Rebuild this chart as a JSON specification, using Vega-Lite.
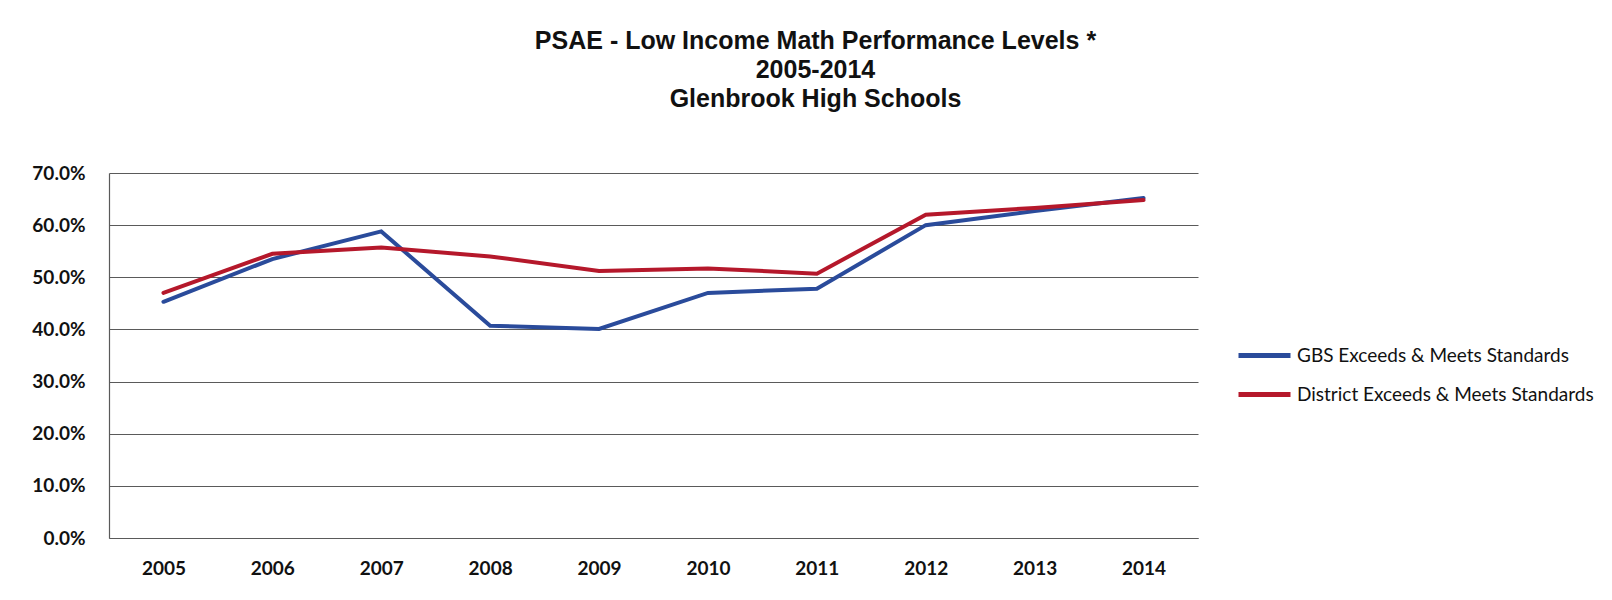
{
  "$schema": "https://vega.github.io/schema/vega-lite/v6.json",
  "autosize": {"type": "none"},
  "padding": {"left": 109, "top": 173, "right": 414, "bottom": 62},
  "width": 1089,
  "height": 365,
  "background": "white",
  "title": {
    "text": ["PSAE - Low Income Math Performance Levels *", "2005-2014", "Glenbrook High Schools"],
    "font": "Liberation Sans",
    "fontSize": 25,
    "fontWeight": "bold",
    "color": "#111111",
    "lineHeight": 29,
    "anchor": "middle",
    "dx": 162,
    "offset": 52
  },
  "data": {
    "values": [
      {"year": "2005", "series": "GBS Exceeds & Meets Standards", "value": 0.453},
      {"year": "2006", "series": "GBS Exceeds & Meets Standards", "value": 0.535},
      {"year": "2007", "series": "GBS Exceeds & Meets Standards", "value": 0.588},
      {"year": "2008", "series": "GBS Exceeds & Meets Standards", "value": 0.407},
      {"year": "2009", "series": "GBS Exceeds & Meets Standards", "value": 0.401},
      {"year": "2010", "series": "GBS Exceeds & Meets Standards", "value": 0.470},
      {"year": "2011", "series": "GBS Exceeds & Meets Standards", "value": 0.478},
      {"year": "2012", "series": "GBS Exceeds & Meets Standards", "value": 0.600},
      {"year": "2013", "series": "GBS Exceeds & Meets Standards", "value": 0.627},
      {"year": "2014", "series": "GBS Exceeds & Meets Standards", "value": 0.652},
      {"year": "2005", "series": "District Exceeds & Meets Standards", "value": 0.470},
      {"year": "2006", "series": "District Exceeds & Meets Standards", "value": 0.545},
      {"year": "2007", "series": "District Exceeds & Meets Standards", "value": 0.557},
      {"year": "2008", "series": "District Exceeds & Meets Standards", "value": 0.540},
      {"year": "2009", "series": "District Exceeds & Meets Standards", "value": 0.512},
      {"year": "2010", "series": "District Exceeds & Meets Standards", "value": 0.517},
      {"year": "2011", "series": "District Exceeds & Meets Standards", "value": 0.507},
      {"year": "2012", "series": "District Exceeds & Meets Standards", "value": 0.620},
      {"year": "2013", "series": "District Exceeds & Meets Standards", "value": 0.633},
      {"year": "2014", "series": "District Exceeds & Meets Standards", "value": 0.648}
    ]
  },
  "mark": {"type": "line", "strokeWidth": 4, "strokeCap": "round", "strokeJoin": "miter"},
  "encoding": {
    "x": {
      "field": "year",
      "type": "ordinal",
      "scale": {"type": "point", "padding": 0.5},
      "axis": {
        "title": null,
        "labelAngle": 0,
        "labelFont": "Lato",
        "labelFontSize": 19,
        "labelFontWeight": "bold",
        "labelColor": "#111111",
        "labelPadding": 21,
        "ticks": false,
        "grid": false,
        "domainColor": "#5a5a5a",
        "domainWidth": 1.2
      }
    },
    "y": {
      "field": "value",
      "type": "quantitative",
      "scale": {"domain": [0, 0.7], "nice": false},
      "axis": {
        "title": null,
        "values": [0, 0.1, 0.2, 0.3, 0.4, 0.5, 0.6, 0.7],
        "format": ".1%",
        "labelFont": "Lato",
        "labelFontSize": 19,
        "labelFontWeight": "bold",
        "labelColor": "#111111",
        "labelPadding": 24,
        "ticks": false,
        "grid": true,
        "gridColor": "#5a5a5a",
        "gridWidth": 1.2,
        "domainColor": "#5a5a5a",
        "domainWidth": 1.2
      }
    },
    "color": {
      "field": "series",
      "type": "nominal",
      "sort": ["GBS Exceeds & Meets Standards", "District Exceeds & Meets Standards"],
      "scale": {
        "domain": ["GBS Exceeds & Meets Standards", "District Exceeds & Meets Standards"],
        "range": ["#2a4b9b", "#b5182b"]
      },
      "legend": {
        "title": null,
        "orient": "none",
        "legendX": 1127,
        "legendY": 154,
        "symbolType": "stroke",
        "symbolStrokeWidth": 5,
        "symbolSize": 2704,
        "labelFont": "Lato",
        "labelFontSize": 19,
        "labelColor": "#111111",
        "labelOffset": 4,
        "labelLimit": 400,
        "rowPadding": -11
      }
    }
  },
  "config": {"view": {"stroke": null}}
}
